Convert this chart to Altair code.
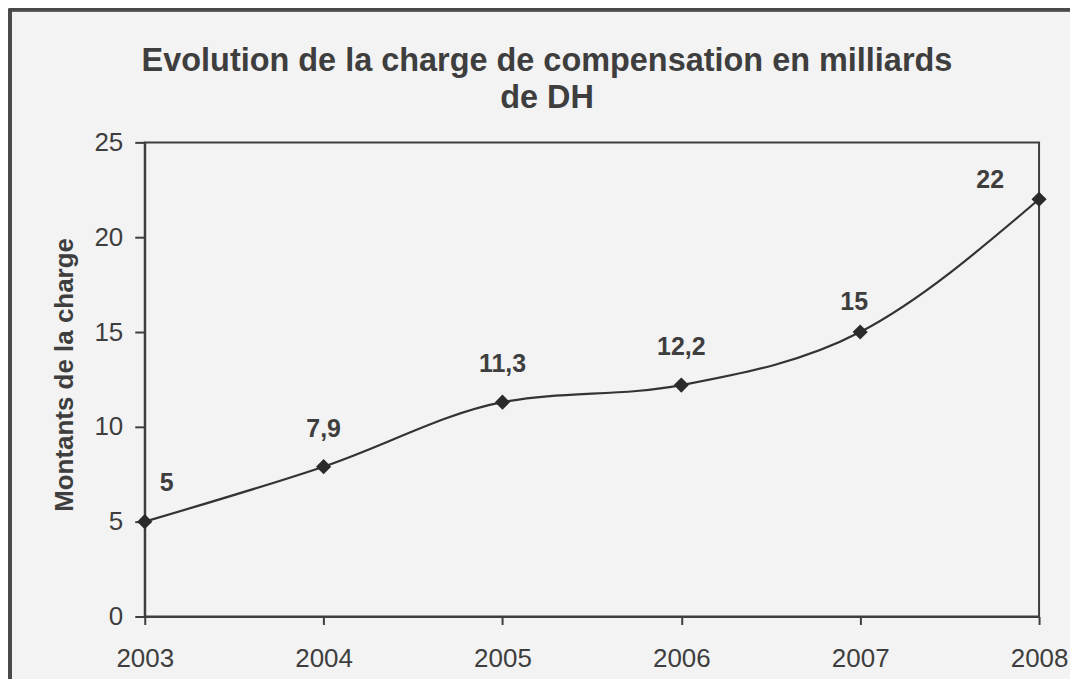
import altair as alt
import pandas as pd

years = [2003, 2004, 2005, 2006, 2007, 2008]
values = [5, 7.9, 11.3, 12.2, 15, 22]
labels = ["5", "7,9", "11,3", "12,2", "15", "22"]

df = pd.DataFrame({"annee": years, "montant": values, "label": labels})

W, H = 896, 475
INK = "#3e3e3e"
FONT = "Liberation Sans"

base = alt.Chart(df)

x = alt.X("annee:Q", scale=alt.Scale(domain=[2003, 2008], nice=False, zero=False),
          axis=alt.Axis(values=years, format="d", title=None, grid=False,
                        labelFontSize=26, labelColor=INK, labelPadding=21,
                        tickSize=8, tickColor=INK, tickWidth=2,
                        domainColor=INK, domainWidth=2, labelFont=FONT,
                        labelFlush=False))
y = alt.Y("montant:Q", scale=alt.Scale(domain=[0, 25], nice=False),
          axis=alt.Axis(values=[0, 5, 10, 15, 20, 25], title="Montants de la charge",
                        grid=False, labelFontSize=26, labelColor=INK, labelPadding=12,
                        tickSize=10, tickColor=INK, tickWidth=2,
                        domainColor=INK, domainWidth=2, labelFont=FONT,
                        titleFont=FONT, titleFontSize=26, titleFontWeight="bold",
                        titleColor=INK, titleX=-80, titleY=H / 2 - 5, titleAngle=270,
                        titleAlign="center", titleBaseline="middle"))

line = base.mark_line(interpolate="monotone", color="#333333", strokeWidth=2.2).encode(x=x, y=y)
pts = base.mark_point(shape="diamond", filled=True, size=230, color="#2a2a2a", opacity=1).encode(x="annee:Q", y="montant:Q")

def lab(filter_years, dx, dy):
    return base.transform_filter(
        alt.FieldOneOfPredicate(field="annee", oneOf=filter_years)
    ).mark_text(fontSize=25, fontWeight="bold", font=FONT, color=INK,
                dx=dx, dy=dy, baseline="middle", align="center").encode(
        x="annee:Q", y="montant:Q", text="label:N")

t1 = lab([2003], 22, -39)
t2 = lab([2004, 2005, 2006], 0, -38)
t3 = lab([2007], -6, -30)
t4 = lab([2008], -49, -19)

frame_left = base.mark_rule(color="#4a4a4a", strokeWidth=3).encode(
    x=alt.value(-135), y=alt.value(-134), y2=alt.value(H + 70))
frame_top = base.mark_rule(color="#4a4a4a", strokeWidth=3).encode(
    x=alt.value(-136), x2=alt.value(W + 31), y=alt.value(-133))

chart = alt.layer(frame_left, frame_top, line, pts, t1, t2, t3, t4).properties(
    width=W, height=H,
    title=alt.TitleParams(
        text=["Evolution de la charge de compensation en milliards", "de DH"],
        fontSize=32.5, fontWeight="bold", font=FONT, color=INK,
        anchor="middle", dx=-45, offset=-141, lineHeight=38,
        frame="group", baseline="bottom"),
    autosize=alt.AutoSizeParams(type="none"),
    padding={"left": 137, "top": 134, "right": 31, "bottom": 62},
    background="#f3f3f3",
).configure_view(stroke=INK, strokeWidth=2)

chart.save("out.html", embed_options={"renderer": "svg", "actions": False})
